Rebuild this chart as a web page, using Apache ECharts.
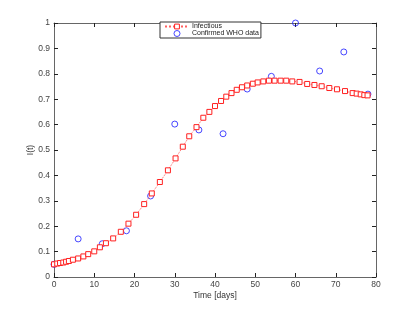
<!DOCTYPE html>
<html><head><meta charset="utf-8">
<script src="https://cdn.jsdelivr.net/npm/echarts@6/dist/echarts.min.js"></script>
<style>html,body{margin:0;padding:0;background:#fff}#c{width:415px;height:312px}</style>
</head><body><div id="c"></div>
<script>
const xTicks = [0,10,20,30,40,50,60,70,80];
const yTicks = [0,0.1,0.2,0.3,0.4,0.5,0.6,0.7,0.8,0.9,1];
const modelDays = [0,0.8,1.5,2.3,3.0,3.7,4.7,6.0,7.3,8.5,10.0,11.4,12.9,14.7,16.6,18.5,20.4,22.4,24.3,26.3,28.3,30.2,32.0,33.6,35.4,37.1,38.6,40.0,41.5,42.8,44.1,45.4,46.7,48.0,49.4,50.6,52.0,53.4,54.8,56.3,57.7,59.2,61.0,62.9,64.7,66.5,68.4,70.3,72.3,74.2,75.2,76.2,77.1,77.9];
const modelValues = [0.050,0.053,0.055,0.057,0.060,0.063,0.068,0.073,0.081,0.090,0.101,0.117,0.133,0.152,0.178,0.210,0.245,0.287,0.329,0.374,0.420,0.467,0.513,0.554,0.590,0.627,0.650,0.673,0.693,0.710,0.724,0.737,0.747,0.754,0.761,0.766,0.770,0.773,0.773,0.773,0.773,0.770,0.768,0.760,0.756,0.751,0.744,0.739,0.732,0.724,0.722,0.719,0.716,0.715];
const whoDays = [0,6,12,18,24,30,36,42,48,54,60,66,72,78];
const whoValues = [0.05,0.15,0.131,0.182,0.319,0.602,0.579,0.564,0.740,0.790,1.0,0.811,0.886,0.720];

const chart = echarts.init(document.getElementById('c'));
const axisColor = '#666';
const lab = {color:'#444', fontSize:8.5, fontFamily:'Liberation Sans'};
function xAx(pos, show){
  return {type:'value', position:pos, min:0, max:80, interval:10,
    axisLine:{show:true, onZero:false, lineStyle:{color:axisColor, width:1}},
    axisTick:{show:true, inside:true, length:4, lineStyle:{color:'#222'}},
    axisLabel:{show:show, margin:3, ...lab},
    splitLine:{show:false},
    name: show ? 'Time [days]' : '', nameLocation:'middle', nameGap:14, nameMoveOverlap:false,
    nameTextStyle:{color:'#333', fontSize:8.5, fontFamily:'Liberation Sans'}};
}
function yAx(pos, show){
  return {type:'value', position:pos, min:0, max:1, interval:0.1,
    axisLine:{show:true, onZero:false, lineStyle:{color:axisColor, width:1}},
    axisTick:{show:true, inside:true, length:4, lineStyle:{color:'#222'}},
    axisLabel:{show:show, margin:4, ...lab, formatter:v=>String(Math.round(v*10)/10)},
    splitLine:{show:false},
    name: show ? 'I(t)' : '', nameLocation:'middle', nameGap:19, nameRotate:90, nameMoveOverlap:false,
    nameTextStyle:{color:'#333', fontSize:8.5, fontFamily:'Liberation Sans'}};
}
chart.setOption({
  animation:false,
  backgroundColor:'#fff',
  grid:{left:54, right:39, top:23, bottom:35},
  xAxis:[xAx('bottom', true), xAx('top', false)],
  yAxis:[yAx('left', true), yAx('right', false)],
  legend:{left:160, top:22, orient:'vertical', itemGap:0, itemWidth:24, itemHeight:6,
    padding:[1,2,1,4], borderColor:'#333', borderWidth:1, backgroundColor:'#fff',
    itemStyle:{borderWidth:1},
    textStyle:{color:'#222', fontSize:7, fontFamily:'Liberation Sans', padding:[0,0,0,-2]},
    data:['Infectious','Confirmed WHO data']},
  series:[
    {name:'Infectious', type:'line', xAxisIndex:0, yAxisIndex:0,
     data:modelDays.map((d,i)=>[d, modelValues[i]]),
     symbol:'rect', symbolSize:5, showAllSymbol:true,
     lineStyle:{color:'#ff6060', width:1, type:'dotted'},
     itemStyle:{color:'#ffffff', borderColor:'#ff2020', borderWidth:1}},
    {name:'Confirmed WHO data', type:'scatter', xAxisIndex:0, yAxisIndex:0,
     data:whoDays.map((d,i)=>[d, whoValues[i]]),
     symbol:'circle', symbolSize:6,
     itemStyle:{color:'rgba(255,255,255,0)', borderColor:'#1a1aff', borderWidth:1}}
  ]
});
</script></body></html>
